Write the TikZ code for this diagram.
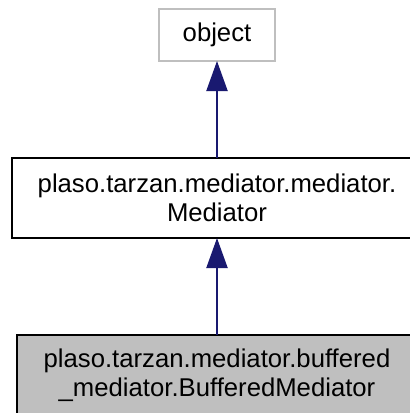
\documentclass[tikz,border=0pt]{standalone}
\usepackage{fontspec}
\setmainfont{Liberation Sans}
\usetikzlibrary{positioning,arrows.meta}
\definecolor{edgeblue}{RGB}{25,25,112}
\definecolor{boxgray}{RGB}{191,191,191}
\begin{document}
\begin{tikzpicture}[every text node part/.style={align=center},node distance=97pt,
  font=\fontsize{25.7}{28.5}\selectfont]

\tikzstyle{bordered} = [rectangle,draw,outer sep=0,inner sep=0,line width=2pt,minimum height=80pt]
\tikzstyle{arrow} = [draw,edgeblue,line width=2pt,-{Triangle[length=30pt,width=21pt]}]

\useasboundingbox (0,0) rectangle (410pt,-413pt);

\node [bordered, draw=boxgray, minimum width=116pt, minimum height=52pt] (object) at (217pt,-35pt) {object};
\node [bordered, minimum width=410pt, below=of object] (mediator) {plaso.tarzan.mediator.mediator.\\Mediator};
\node [bordered, fill=boxgray, minimum width=400pt, below=of mediator] (buffered) {plaso.tarzan.mediator.buffered\\\_mediator.BufferedMediator};

\path[arrow] (buffered) -- (mediator);
\path[arrow] (mediator) -- (object);
\end{tikzpicture}
\end{document}
